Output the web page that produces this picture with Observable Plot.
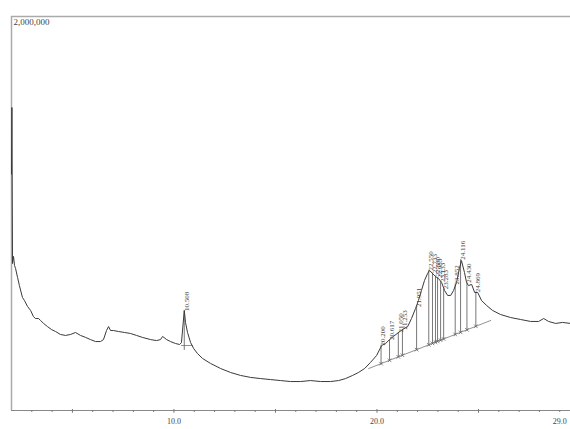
<!DOCTYPE html>
<html><head><meta charset="utf-8">
<script src="https://cdn.jsdelivr.net/npm/d3@7"></script>
<script src="https://cdn.jsdelivr.net/npm/@observablehq/plot@0.6"></script>
<style>body{margin:0;background:#fff;} svg{display:block;}</style>
</head><body><div id="chart"></div>
<script>
// retention time (min)
const times = [2.00,2.02,2.05,2.10,2.15,2.20,2.30,2.39,2.54,2.64,2.79,2.94,3.08,3.18,3.33,3.43,3.58,3.77,3.97,4.17,4.41,4.66,4.91,5.15,5.40,5.65,5.89,6.14,6.38,6.53,6.68,6.78,6.88,7.02,7.27,7.57,7.86,8.16,8.45,8.85,9.14,9.34,9.44,9.64,9.83,10.08,10.28,10.37,10.51,10.57,10.67,10.82,10.97,11.16,11.41,11.80,12.30,12.79,13.28,13.77,14.27,14.76,15.25,15.74,16.24,16.73,17.22,17.71,18.11,18.45,18.80,19.09,19.39,19.68,19.98,20.23,20.42,20.62,20.81,21.06,21.26,21.51,21.70,21.90,22.04,22.19,22.34,22.49,22.59,22.74,22.88,23.03,23.18,23.33,23.48,23.63,23.77,23.92,24.06,24.16,24.31,24.41,24.51,24.66,24.81,24.96,25.15,25.40,25.69,26.09,26.58,27.07,27.57,27.96,28.21,28.45,28.80,29.14,29.53];
// detector response
const intensity = [1200000,1538000,746000,782000,736000,721000,675000,634000,574000,558000,528000,508000,477000,467000,467000,457000,442000,426000,411000,401000,386000,381000,386000,396000,381000,371000,360000,350000,350000,360000,406000,426000,406000,406000,401000,396000,391000,381000,371000,360000,355000,360000,376000,360000,350000,340000,335000,345000,508000,447000,396000,345000,315000,289000,264000,239000,213000,193000,178000,168000,162000,157000,152000,147000,147000,152000,147000,147000,152000,162000,178000,193000,213000,244000,279000,330000,340000,360000,376000,396000,411000,426000,467000,518000,558000,609000,660000,695000,711000,695000,680000,670000,650000,609000,584000,584000,609000,650000,721000,761000,700000,650000,634000,640000,599000,599000,558000,533000,508000,487000,472000,462000,452000,452000,467000,452000,442000,447000,442000];

// integrated peaks
const peakTimes = [10.508,20.200,20.617,21.050,21.253,21.951,22.550,22.733,22.880,22.983,23.133,23.283,23.852,24.116,24.430,24.869];
const peakLabels = ["10.508","20.200","20.617","21.050","21.253","21.951","22.550","22.733","22.880","22.983","23.133","23.283","23.852","24.116","24.430","24.869"];
const peakHeights = [505000,330000,358000,396000,411000,525000,711000,697000,682000,672000,652000,615000,640000,765000,648000,600000];

// baselines drawn under the peaks
const baselineTimes = [19.59, 25.60];
const baselineValues = [213000, 457000];
const firstBaselineTimes = [10.37, 10.92];
const firstBaselineValues = [330000, 330000];

const minorTicks = [3,4,6,7,8,9,11,12,13,14,16,17,18,19,21,22,23,24,26,27,28,29];
const majorTicks = [5,10,15,20,25];
const tickLabels = [10,20,29];
const yMax = 2000000;

const curve = times.map((t,i)=>({t, v:intensity[i]}));
const baseAt = d3.scaleLinear().domain(baselineTimes).range(baselineValues);
const peaks = peakTimes.map((t,i)=>({t, label:peakLabels[i], h:peakHeights[i],
  base: i===0 ? firstBaselineValues[0]-25000 : baseAt(t)}));
const baseline = baselineTimes.map((t,i)=>({t, v:baselineValues[i]}));
const firstBaseline = firstBaselineTimes.map((t,i)=>({t, v:firstBaselineValues[i]}));

const plot = Plot.plot({
  width: 570, height: 429,
  marginLeft: 11, marginRight: 0, marginTop: 16, marginBottom: 19,
  x: {type: "linear", domain: [2, 29.53], label: null, axis: null},
  y: {type: "linear", domain: [0, yMax], label: null, axis: null},
  style: {fontFamily: "'Liberation Serif', serif", background: "#fff", color: "#444"},
  marks: [
    Plot.ruleX([2], {x: d => d, stroke: "#aaa", strokeWidth: 1.5}),
    Plot.ruleY([yMax], {y: d => d, stroke: "#aaa", strokeWidth: 1.5}),
    Plot.ruleY([0], {y: d => d, stroke: "#888", strokeWidth: 1.2}),
    Plot.ruleX(minorTicks, {x: d => d, y1: 0, y2: -10000, stroke: "#777", strokeWidth: 1}),
    Plot.ruleX(majorTicks, {x: d => d, y1: 5000, y2: -14000, stroke: "#777", strokeWidth: 1}),
    Plot.text(tickLabels, {x: d => d, y: 0, text: d => d.toFixed(1), dy: 11, fontSize: 8, fill: "#444"}),
    Plot.text([yMax], {x: 2, y: d => d, text: d => d3.format(",")(d), textAnchor: "start", dx: 2, dy: 6, fontSize: 9, fill: "#444"}),
    Plot.line(baseline, {x: "t", y: "v", stroke: "#777", strokeWidth: 0.8}),
    Plot.line(firstBaseline, {x: "t", y: "v", stroke: "#777", strokeWidth: 0.8}),
    Plot.ruleX(peaks, {x: "t", y1: "base", y2: "h", stroke: "#555", strokeWidth: 0.8}),
    Plot.dot(peaks.slice(1), {x: "t", y: "base", symbol: "times", r: 1.8, stroke: "#555", strokeWidth: 0.7}),
    Plot.line(curve, {x: "t", y: "v", stroke: "#3a3a3a", strokeWidth: 1}),
    Plot.text(peaks, {x: "t", y: "h", text: "label", rotate: -90, textAnchor: "start", lineAnchor: "middle", dx: 2, fontSize: 7, fill: "#444"})
  ]
});
document.getElementById("chart").appendChild(plot);
</script>
</body></html>
